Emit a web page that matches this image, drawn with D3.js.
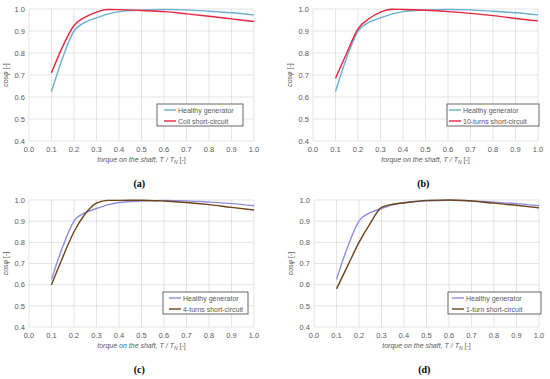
<!DOCTYPE html>
<html>
<head>
<meta charset="utf-8">
<script src="https://cdn.jsdelivr.net/npm/d3@7"></script>
<style>
  body { margin: 0; background: #fff; }
  svg { display: block; font-family: Arial, "Liberation Sans", sans-serif; }
</style>
</head>
<body>
<svg width="550" height="379"></svg>
<script>
const xValues = [0.1, 0.15, 0.2, 0.25, 0.3, 0.35, 0.4, 0.5, 0.6, 0.7, 0.8, 0.9, 1.0]

const healthy = [0.625, 0.78, 0.9, 0.94, 0.96, 0.977, 0.988, 0.995, 0.998, 0.996, 0.99, 0.983, 0.973]
const coilShort = [0.71, 0.83, 0.925, 0.963, 0.986, 0.998, 0.997, 0.993, 0.988, 0.978, 0.967, 0.955, 0.943]
const tenTurns = [0.685, 0.8, 0.91, 0.957, 0.986, 0.999, 0.998, 0.994, 0.988, 0.98, 0.97, 0.957, 0.946]
const fourTurns = [0.6, 0.73, 0.85, 0.935, 0.985, 0.998, 0.998, 0.999, 0.995, 0.988, 0.978, 0.965, 0.953]
const oneTurn = [0.58, 0.69, 0.8, 0.89, 0.965, 0.98, 0.986, 0.998, 1.0, 0.995, 0.985, 0.975, 0.963]

const xTicks = d3.range(0, 11).map(i => i / 10)
const yTicks = d3.range(4, 11).map(i => i / 10)

const panels = [
  { id: '(a)', ox: 0, oy: 0, top: 9, h: 132, legX: 157, legY: 104, legW: 86, pad: 7,
    fault: coilShort, faultName: 'Coil short-circuit', hc: '#6aaed0', fc: '#e8233f' },
  { id: '(b)', ox: 284, oy: 0, top: 9, h: 132, legX: 163, legY: 104, legW: 92, pad: 2,
    fault: tenTurns, faultName: '10-turns short-circuit', hc: '#6aaed0', fc: '#e8233f' },
  { id: '(c)', ox: 0, oy: 190, top: 10, h: 127, legX: 163, legY: 102, legW: 85, pad: 6,
    fault: fourTurns, faultName: '4-turns short-circuit', hc: '#8e8ee0', fc: '#6e4318' },
  { id: '(d)', ox: 285, oy: 190, top: 10, h: 127, legX: 163, legY: 102, legW: 93, pad: 4,
    fault: oneTurn, faultName: '1-turn short-circuit', hc: '#8e8ee0', fc: '#6e4318' }
]

const svg = d3.select('svg')
const left = 29
const plotW = 225

panels.forEach(p => {
  const g = svg.append('g').attr('transform', `translate(${p.ox},${p.oy})`)
  const x = d3.scaleLinear().domain([0, 1]).range([left, left + plotW])
  const y = d3.scaleLinear().domain([0.4, 1]).range([p.top + p.h, p.top])

  // grid
  g.append('g').selectAll('line').data(xTicks).join('line')
    .attr('x1', d => x(d)).attr('x2', d => x(d))
    .attr('y1', y(0.4)).attr('y2', y(1))
    .attr('stroke', '#d9d9d9').attr('stroke-width', 0.7)
  g.append('g').selectAll('line').data(yTicks).join('line')
    .attr('y1', d => y(d)).attr('y2', d => y(d))
    .attr('x1', x(0)).attr('x2', x(1))
    .attr('stroke', '#d9d9d9').attr('stroke-width', 0.7)

  // tick labels
  g.append('g').selectAll('text').data(xTicks).join('text')
    .attr('x', d => x(d)).attr('y', y(0.4) + 11)
    .attr('text-anchor', 'middle').attr('font-size', 7.5).attr('fill', '#595959')
    .text(d => d.toFixed(1))
  g.append('g').selectAll('text').data(yTicks).join('text')
    .attr('x', x(0) - 4).attr('y', d => y(d) + 2.7)
    .attr('text-anchor', 'end').attr('font-size', 7.5).attr('fill', '#595959')
    .text(d => d.toFixed(1))

  // axis titles
  const xt = g.append('text')
    .attr('x', x(0.5)).attr('y', y(0.4) + 21)
    .attr('text-anchor', 'middle').attr('font-size', 7).attr('fill', '#595959')
    .attr('font-style', 'italic')
  xt.append('tspan').text('torque on the shaft, T / T')
  xt.append('tspan').attr('font-size', 5).attr('dy', 1.5).text('N')
  xt.append('tspan').attr('dy', -1.5).attr('font-style', 'normal').text(' [-]')

  const yt = g.append('text')
    .attr('transform', `translate(${x(0) - 21},${y(0.7)}) rotate(-90)`)
    .attr('text-anchor', 'middle').attr('font-size', 7).attr('fill', '#595959')
  yt.append('tspan').attr('font-style', 'italic').text('cosφ')
  yt.append('tspan').text(' [-]')

  // lines
  const line = d3.line()
    .x((d, i) => x(xValues[i]))
    .y(d => y(d))
    .curve(d3.curveMonotoneX)

  g.append('path').datum(healthy).attr('d', line)
    .attr('fill', 'none').attr('stroke', p.hc).attr('stroke-width', 1.4)
  g.append('path').datum(p.fault).attr('d', line)
    .attr('fill', 'none').attr('stroke', p.fc).attr('stroke-width', 1.4)

  // legend
  const lg = g.append('g').attr('transform', `translate(${p.legX},${p.legY})`)
  lg.append('rect').attr('width', p.legW).attr('height', 22)
    .attr('fill', '#fff').attr('stroke', '#404040').attr('stroke-width', 0.8)
  const items = [{ name: 'Healthy generator', c: p.hc }, { name: p.faultName, c: p.fc }]
  items.forEach((it, i) => {
    const yy = 6 + i * 11
    lg.append('line').attr('x1', p.pad).attr('x2', p.pad + 12).attr('y1', yy).attr('y2', yy)
      .attr('stroke', it.c).attr('stroke-width', 1.4)
    lg.append('text').attr('x', p.pad + 14).attr('y', yy + 2.6)
      .attr('font-size', 7).attr('fill', '#595959').text(it.name)
  })

  // panel label
  g.append('text').attr('x', x(0.49)).attr('y', y(0.4) + 46)
    .attr('text-anchor', 'middle').attr('font-family', '"Liberation Serif", "DejaVu Serif", serif')
    .attr('font-size', 10).attr('fill', '#000').attr('font-weight', 'bold')
    .text(p.id)
})
</script>
</body>
</html>
